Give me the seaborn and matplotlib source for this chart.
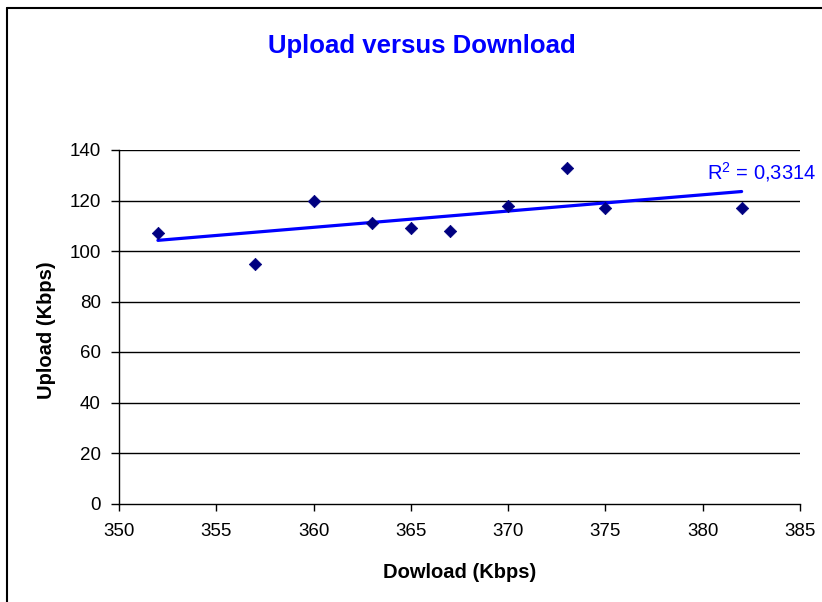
import numpy as np
import pandas as pd
import matplotlib
matplotlib.use("Agg")
import matplotlib.pyplot as plt
from matplotlib.lines import Line2D
import seaborn as sns

# data
download = [352, 357, 360, 363, 365, 367, 370, 373, 375, 382]
upload = [107, 95, 120, 111, 109, 108, 118, 133, 117, 117]
x_ticks = [350, 355, 360, 365, 370, 375, 380, 385]
y_ticks = [0, 20, 40, 60, 80, 100, 120, 140]

df = pd.DataFrame({"download": download, "upload": upload})

sns.set_theme(style="white")
plt.rcParams["font.family"] = ["Liberation Sans", "DejaVu Sans"]
plt.rcParams["mathtext.default"] = "regular"
plt.rcParams["text.color"] = "black"
plt.rcParams["axes.labelcolor"] = "black"

fig = plt.figure(figsize=(8.22, 6.02), dpi=100)
ax = fig.add_axes([119 / 822, 1 - 503.5 / 602, 681 / 822, 353.5 / 602])

# horizontal gridlines in black, like the Excel original
for yv in y_ticks[1:]:
    ax.axhline(yv, color="black", lw=1, zorder=0)

sns.regplot(data=df, x="download", y="upload", scatter=False, ci=None,
            truncate=True, color="#0000FF", line_kws={"lw": 2.3}, ax=ax)
sns.scatterplot(data=df, x="download", y="upload", marker="D", s=40,
                color="#000080", edgecolor="#000080", ax=ax, zorder=3)

# R squared of the linear trend
r = np.corrcoef(download, upload)[0, 1]
r2_txt = f"{r**2:.4f}".replace(".", ",")
ax.text(380.2, 128.4, "R$^2$ = " + r2_txt, color="#0000FF", fontsize=14.5,
        ha="left", va="baseline", clip_on=False)

ax.set_xlim(350, 385)
ax.set_ylim(0, 140)
ax.set_xticks(x_ticks)
ax.set_yticks(y_ticks)
ax.tick_params(axis="both", direction="out", width=1, colors="black",
               labelsize=13.5, bottom=True, left=True)
ax.tick_params(axis="x", length=5, pad=9)
ax.tick_params(axis="y", length=6, pad=7)

for side in ["top", "right"]:
    ax.spines[side].set_visible(False)
for side in ["left", "bottom"]:
    ax.spines[side].set_color("black")
    ax.spines[side].set_linewidth(1)

ax.set_xlabel("Dowload (Kbps)", fontsize=14.5, fontweight="bold", color="black")
ax.set_ylabel("Upload (Kbps)", fontsize=14.5, fontweight="bold", color="black")
ax.xaxis.set_label_coords(0.5, (503.5 - 563) / 353.5)
ax.yaxis.set_label_coords((56 - 119) / 681, 0.49)

fig.text(422 / 822, 1 - 53 / 602, "Upload versus Download", color="#0000FF",
         fontsize=18.5, fontweight="bold", ha="center", va="baseline")

# chart area border (cut off at right and bottom in the original)
bx, by = 7 / 822, 1 - 8 / 602
fig.add_artist(Line2D([bx, bx], [0, by], transform=fig.transFigure, color="black", lw=1.5))
fig.add_artist(Line2D([bx, 1], [by, by], transform=fig.transFigure, color="black", lw=1.5))

fig.savefig("out.png", dpi=100, facecolor="white")
